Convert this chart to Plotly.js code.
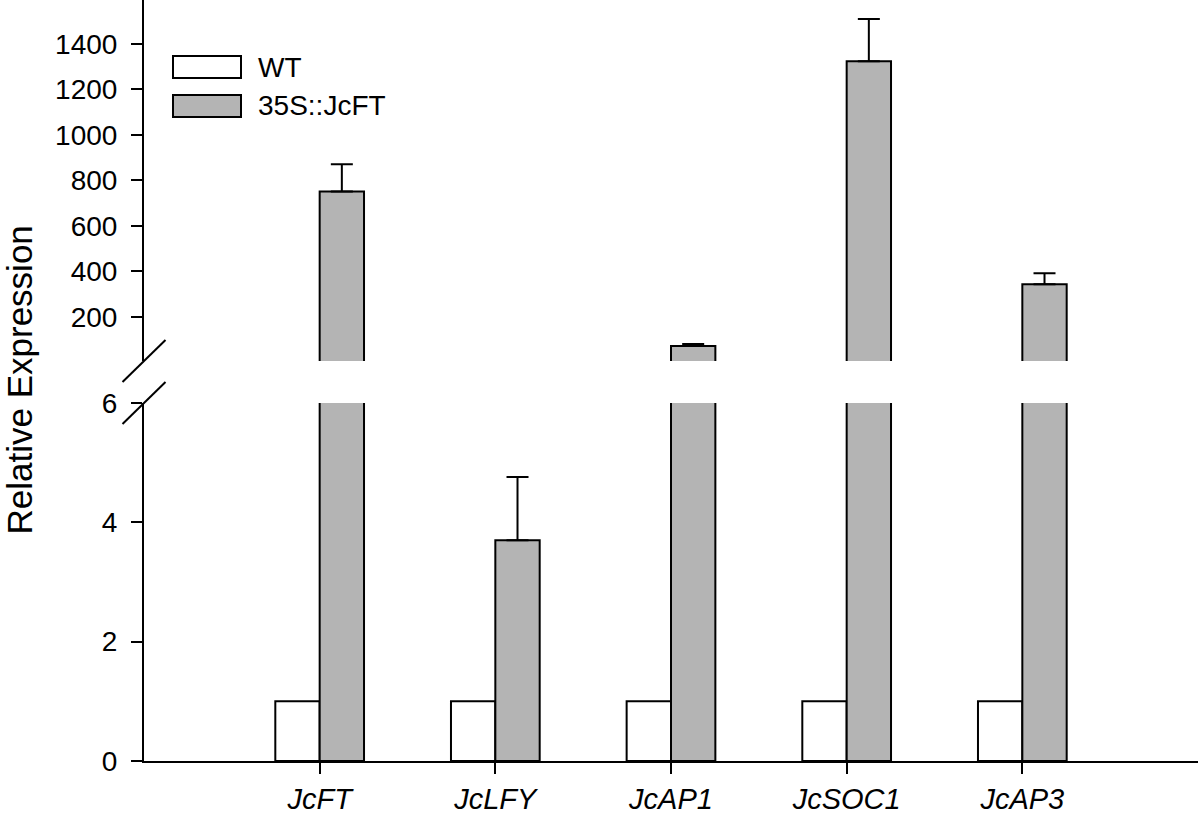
<!DOCTYPE html>
<html>
<head>
<meta charset="utf-8">
<script src="https://cdn.plot.ly/plotly-3.0.1.min.js"></script>
<style>html,body{margin:0;padding:0;background:#fff;}</style>
</head>
<body>
<div id="chart" style="width:1200px;height:815px;"></div>
<script>
// ---- data ----
const genes = ["JcFT", "JcLFY", "JcAP1", "JcSOC1", "JcAP3"];
const geneLabels = ["<i>JcFT</i>", "<i>JcLFY</i>", "<i>JcAP1</i>", "<i>JcSOC1</i>", "<i>JcAP3</i>"];
const wtValues = [1, 1, 1, 1, 1];
const ftValues = [752, 3.7, 72, 1324, 344];
const ftErrors = [119, 1.06, 9, 185, 48];
const lowerTicks = [0, 2, 4, 6];
const upperTicks = [200, 400, 600, 800, 1000, 1200, 1400];

// ---- layout constants ----
const BREAK = 6;
const lowerTop = 358 / 761;
const upperBottom = 400 / 761;
const FONT = "Liberation Sans, Arial, sans-serif";

// split each series between the lower (0-6) and upper (broken) panel
const upperOnly = (vals) => vals.map(v => v > BREAK ? v : null);
const errLower = ftValues.map((v, i) => v <= BREAK ? ftErrors[i] : 0);
const errUpper = ftValues.map((v, i) => v > BREAK ? ftErrors[i] : 0);

const lineStyle = {color: "#000", width: 2};

function barTrace(name, vals, color, yaxis, err, showlegend) {
  const t = {
    type: "bar", name: name, x: genes, y: vals, yaxis: yaxis, xaxis: "x",
    marker: {color: color, line: lineStyle},
    showlegend: showlegend, hoverinfo: "x+y"
  };
  if (err) {
    t.error_y = {type: "data", symmetric: false, array: err,
      arrayminus: err.map(() => 0), color: "#000", thickness: 2, width: 11};
  }
  return t;
}

const data = [
  barTrace("WT", wtValues, "#ffffff", "y", null, true),
  barTrace("35S::JcFT", ftValues, "#b4b4b4", "y", errLower, true),
  barTrace("WT", upperOnly(wtValues), "#ffffff", "y2", null, false),
  barTrace("35S::JcFT", upperOnly(ftValues), "#b4b4b4", "y2", errUpper, false)
];

const tickFont = {family: FONT, size: 28, color: "#000"};

const breakMark = (anchor) => ({
  type: "line", xref: "paper", yref: "paper",
  xsizemode: "pixel", ysizemode: "pixel",
  xanchor: 0, yanchor: anchor,
  x0: -21.5, x1: 21.5, y0: -21, y1: 21,
  line: {color: "#000", width: 2}
});

const legendBox = (yTop, fill) => ({
  type: "rect", xref: "paper", yref: "paper",
  xsizemode: "pixel", ysizemode: "pixel",
  xanchor: 0, yanchor: 1,
  x0: 29, x1: 97, y0: -yTop, y1: -(yTop + 22),
  fillcolor: fill, line: {color: "#000", width: 2}
});

const layout = {
  width: 1200, height: 815,
  margin: {l: 144, r: 2, t: 0, b: 54},
  paper_bgcolor: "#fff", plot_bgcolor: "#fff",
  barmode: "group", bargap: 0.495, bargroupgap: 0,
  showlegend: false,
  font: {family: FONT, color: "#000"},
  xaxis: {
    type: "category", range: [-1, 5],
    tickvals: genes, ticktext: geneLabels,
    showline: true, linecolor: "#000", linewidth: 2,
    ticks: "outside", ticklen: 11, tickwidth: 2, tickcolor: "#000",
    tickfont: {family: FONT, size: 29, color: "#000"},
    showgrid: false, zeroline: false, anchor: "y", fixedrange: true
  },
  yaxis: {
    domain: [0, lowerTop], range: [0, BREAK],
    tickvals: lowerTicks, ticktext: lowerTicks.map(String),
    showline: true, linecolor: "#000", linewidth: 2,
    ticks: "outside", ticklen: 11, tickwidth: 2, tickcolor: "#000",
    ticklabelstandoff: 8,
    tickfont: tickFont, showgrid: false, zeroline: false, anchor: "x"
  },
  yaxis2: {
    domain: [upperBottom, 1], range: [6.6, 1593],
    tickvals: upperTicks, ticktext: upperTicks.map(String),
    showline: true, linecolor: "#000", linewidth: 2,
    ticks: "outside", ticklen: 11, tickwidth: 2, tickcolor: "#000",
    ticklabelstandoff: 8,
    tickfont: tickFont, showgrid: false, zeroline: false, anchor: "x"
  },
  shapes: [
    breakMark(lowerTop),
    breakMark(upperBottom),
    legendBox(56, "#ffffff"),
    legendBox(95, "#b4b4b4")
  ],
  annotations: [
    {text: "Relative Expression", xref: "paper", yref: "paper", x: 0, y: 0.5,
     xshift: -125, textangle: -90, showarrow: false,
     font: {family: FONT, size: 35, color: "#000"}, xanchor: "center", yanchor: "middle"},
    {text: "WT", xref: "paper", yref: "paper", x: 0, y: 1, xshift: 112, yshift: -67,
     xanchor: "left", yanchor: "middle", showarrow: false,
     font: {family: FONT, size: 28, color: "#000"}},
    {text: "35S::JcFT", xref: "paper", yref: "paper", x: 0, y: 1, xshift: 112, yshift: -105,
     xanchor: "left", yanchor: "middle", showarrow: false,
     font: {family: FONT, size: 28, color: "#000"}}
  ]
};

Plotly.newPlot("chart", data, layout, {displayModeBar: false, staticPlot: true});
</script>
</body>
</html>
